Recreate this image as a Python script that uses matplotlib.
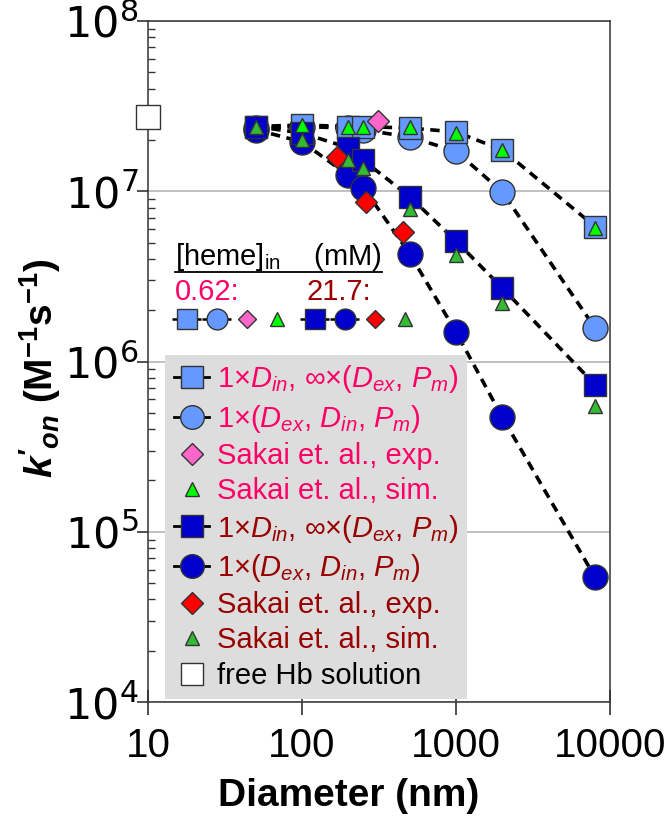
import matplotlib
matplotlib.use('Agg')
import numpy as np
import matplotlib.pyplot as plt
import matplotlib.ticker as mticker
from matplotlib.lines import Line2D
from matplotlib.transforms import IdentityTransform

plt.rcParams['font.family'] = ['Liberation Sans', 'DejaVu Sans']
plt.rcParams['mathtext.fontset'] = 'custom'
plt.rcParams['mathtext.rm'] = 'Liberation Sans'
plt.rcParams['mathtext.it'] = 'Liberation Sans:italic'
plt.rcParams['mathtext.bf'] = 'Liberation Sans:bold'
plt.rcParams['mathtext.sf'] = 'Liberation Sans:bold:italic'

# ---------------- data ----------------
diam = [50, 100, 200, 250, 500, 1000, 2000, 8000]
k_sq_062 = [2.4e7, 2.45e7, 2.4e7, 2.4e7, 2.35e7, 2.23e7, 1.75e7, 6.2e6]
k_ci_062 = [2.35e7, 2.4e7, 2.35e7, 2.3e7, 2.08e7, 1.72e7, 9.9e6, 1.57e6]
k_sim_062 = [2.4e7, 2.45e7, 2.4e7, 2.4e7, 2.38e7, 2.2e7, 1.75e7, 6.1e6]
k_sq_217 = [2.4e7, 2.2e7, 1.8e7, 1.52e7, 9.3e6, 5.1e6, 2.7e6, 7.3e5]
k_ci_217 = [2.3e7, 1.95e7, 1.24e7, 1.05e7, 4.3e6, 1.49e6, 4.7e5, 5.4e4]
k_sim_217 = [2.4e7, 2.0e7, 1.52e7, 1.37e7, 7.9e6, 4.2e6, 2.2e6, 5.5e5]
diam_exp_062 = [310]
k_exp_062 = [2.6e7]
diam_exp_217 = [170, 260, 450]
k_exp_217 = [1.59e7, 8.6e6, 5.8e6]
diam_free = [10]
k_free = [2.73e7]

labels = [r'1×$D_{in}$, ∞×($D_{ex}$, $P_{m}$)',
          r'1×($D_{ex}$, $D_{in}$, $P_{m}$)',
          'Sakai et. al., exp.',
          'Sakai et. al., sim.',
          r'1×$D_{in}$, ∞×($D_{ex}$, $P_{m}$)',
          r'1×($D_{ex}$, $D_{in}$, $P_{m}$)',
          'Sakai et. al., exp.',
          'Sakai et. al., sim.',
          'free Hb solution']
xticks = [10, 100, 1000, 10000]
yticks = [1e4, 1e5, 1e6, 1e7, 1e8]

# ---------------- style ----------------
LB = '#6699FF'
DB = '#0000CC'
PINK = '#FF66CC'
GL = '#00FF00'
GD = '#33BB33'
RED = '#FF0000'
TXT1 = '#FF0066'
TXT2 = '#990000'
EC = '#333333'
DASH = (0, (2.6, 1.8))
LW = 2.6

fig = plt.figure(figsize=(6.68, 8.32), dpi=100)
ax = fig.add_axes([148 / 668, 1 - 702 / 832, 462 / 668, 681 / 832])
ax.set_xscale('log')
ax.set_yscale('log')

# dashed connecting lines
for ys in (k_ci_062, k_sq_062, k_ci_217, k_sq_217):
    ax.plot(diam, ys, ls=DASH, color='black', lw=LW, zorder=2)

mk = dict(ls='none', mec=EC, mew=1.0)
ax.plot(diam, k_ci_062, marker='o', ms=18, mfc=LB, zorder=3.0, **mk)
ax.plot(diam, k_sq_062, marker='s', ms=16.5, mfc=LB, zorder=3.1, **mk)
ax.plot(diam, k_ci_217, marker='o', ms=18, mfc=DB, zorder=3.2, **mk)
ax.plot(diam, k_sq_217, marker='s', ms=16.5, mfc=DB, zorder=3.3, **mk)
ax.plot(diam_exp_062, k_exp_062, marker='D', ms=11.5, mfc=PINK, zorder=3.4, **mk)
ax.plot(diam_exp_217, k_exp_217, marker='D', ms=11.5, mfc=RED, zorder=3.4, **mk)
ax.plot(diam, k_sim_062, marker='^', ms=10.5, mfc=GL, zorder=3.5, **mk)
ax.plot(diam, k_sim_217, marker='^', ms=10.5, mfc=GD, zorder=3.5, **mk)
ax.plot(diam_free, k_free, marker='s', ms=17.5, mfc='white', zorder=5, clip_on=False, **mk)

# legend handles (proxies mirroring the plotted styles)
def h(marker, ms, fc, line):
    return Line2D([], [], marker=marker, ms=ms, mfc=fc, mec=EC, mew=1.0,
                  color='black', ls='-' if line else 'none', lw=2)

handles = [h('s', 16, LB, True), h('o', 17, LB, True), h('D', 11, PINK, False),
           h('^', 10.5, GL, False), h('s', 16, DB, True), h('o', 17, DB, True),
           h('D', 11, RED, False), h('^', 10.5, GD, False), h('s', 16, 'white', False)]

ax.set_xlim(10, 10000)
ax.set_ylim(1e4, 1e8)

ax.xaxis.set_major_locator(mticker.FixedLocator(xticks))
ax.xaxis.set_major_formatter(mticker.FuncFormatter(lambda v, p: '%d' % round(v)))
ax.xaxis.set_minor_locator(mticker.LogLocator(base=10, subs=np.arange(2, 10)))
ax.xaxis.set_minor_formatter(mticker.NullFormatter())
ax.yaxis.set_major_locator(mticker.FixedLocator(yticks))
ax.yaxis.set_major_formatter(mticker.FuncFormatter(
    lambda v, p: r'$\mathregular{10^{%d}}$' % round(np.log10(v))))
ax.yaxis.set_minor_locator(mticker.LogLocator(base=10, subs=np.arange(2, 10)))
ax.yaxis.set_minor_formatter(mticker.NullFormatter())

ax.tick_params(axis='y', which='major', direction='out', length=8, width=1.1,
               pad=-1, labelsize=31, labelfontfamily='DejaVu Sans', colors='#222222')
ax.tick_params(axis='y', which='minor', direction='in', length=5, width=1.0, color='#333333')
ax.tick_params(axis='x', which='major', direction='inout', length=18, width=1.1,
               pad=9, labelsize=29, colors='#222222')
ax.tick_params(axis='x', which='minor', direction='in', length=6.5, width=1.0, color='#333333')
ax.tick_params(labelcolor='black')

for s in ax.spines.values():
    s.set_linewidth(1.1)
    s.set_color('#333333')

ax.yaxis.grid(True, which='major', color='#BBBBBB', lw=1.3)
ax.set_axisbelow(True)

ax.set_xlabel('Diameter (nm)', fontsize=28, fontweight='bold')
ax.xaxis.set_label_coords((349 - 148) / 462, -0.112)
ax.set_ylabel(r"$\mathsf{k'_{on}}$ $\mathbf{(M^{-1}s^{-1})}$", fontsize=28)
ax.yaxis.set_label_coords(-0.185, 0.49)

# main legend
leg = ax.legend(handles, labels, loc='upper left', bbox_to_anchor=(0.037, 0.51),
                fontsize=21, frameon=True, facecolor='#DDDDDD', edgecolor='none',
                framealpha=1, fancybox=False, handlelength=1.22, handletextpad=0.25,
                labelspacing=0.25, borderpad=0.3, borderaxespad=0)
cols = [TXT1] * 4 + [TXT2] * 4 + ['black']
for t, c in zip(leg.get_texts(), cols):
    t.set_color(c)
ax.add_artist(leg)

# inset "[heme]in (mM)" marker rows
def hs(marker, ms, fc, line):
    return Line2D([], [], marker=marker, ms=ms, mfc=fc, mec=EC, mew=1.0,
                  color='black', ls=(0, (2, 1.2)) if line else 'none', lw=1.8)

g1 = [hs('s', 14, LB, True), hs('o', 15, LB, True), hs('D', 9.5, PINK, False), hs('^', 10, GL, False)]
g2 = [hs('s', 14, DB, True), hs('o', 15, DB, True), hs('D', 9.5, RED, False), hs('^', 10, GD, False)]
l1 = ax.legend(g1, [''] * 4, ncol=4, loc='center left', bbox_to_anchor=(0.052, 0.558),
               frameon=False, fontsize=20, handlelength=1.08, handletextpad=0,
               columnspacing=0.0, borderpad=0, borderaxespad=0)
ax.add_artist(l1)
l2 = ax.legend(g2, [''] * 4, ncol=4, loc='center left', bbox_to_anchor=(0.33, 0.558),
               frameon=False, fontsize=20, handlelength=1.08, handletextpad=0,
               columnspacing=0.0, borderpad=0, borderaxespad=0)

hdr_y = (702 - 265) / 681
hdr = ax.text((175 - 148) / 462, hdr_y, r'[heme]$_{\mathregular{in}}$    (mM)',
              transform=ax.transAxes, fontsize=21, va='baseline', ha='left', color='black')
ax.text((175 - 148) / 462, (702 - 300) / 681, '0.62:', transform=ax.transAxes,
        fontsize=21, va='baseline', ha='left', color=TXT1)
ax.text((306 - 148) / 462, (702 - 300) / 681, '21.7:', transform=ax.transAxes,
        fontsize=21, va='baseline', ha='left', color=TXT2)

fig.canvas.draw()
bb = hdr.get_window_extent()
base = ax.transAxes.transform((0, hdr_y))[1]
fig.add_artist(Line2D([bb.x0, bb.x1], [base - 7, base - 7], transform=IdentityTransform(),
                      color='black', lw=1.3))

fig.savefig('out.png', dpi=100)
